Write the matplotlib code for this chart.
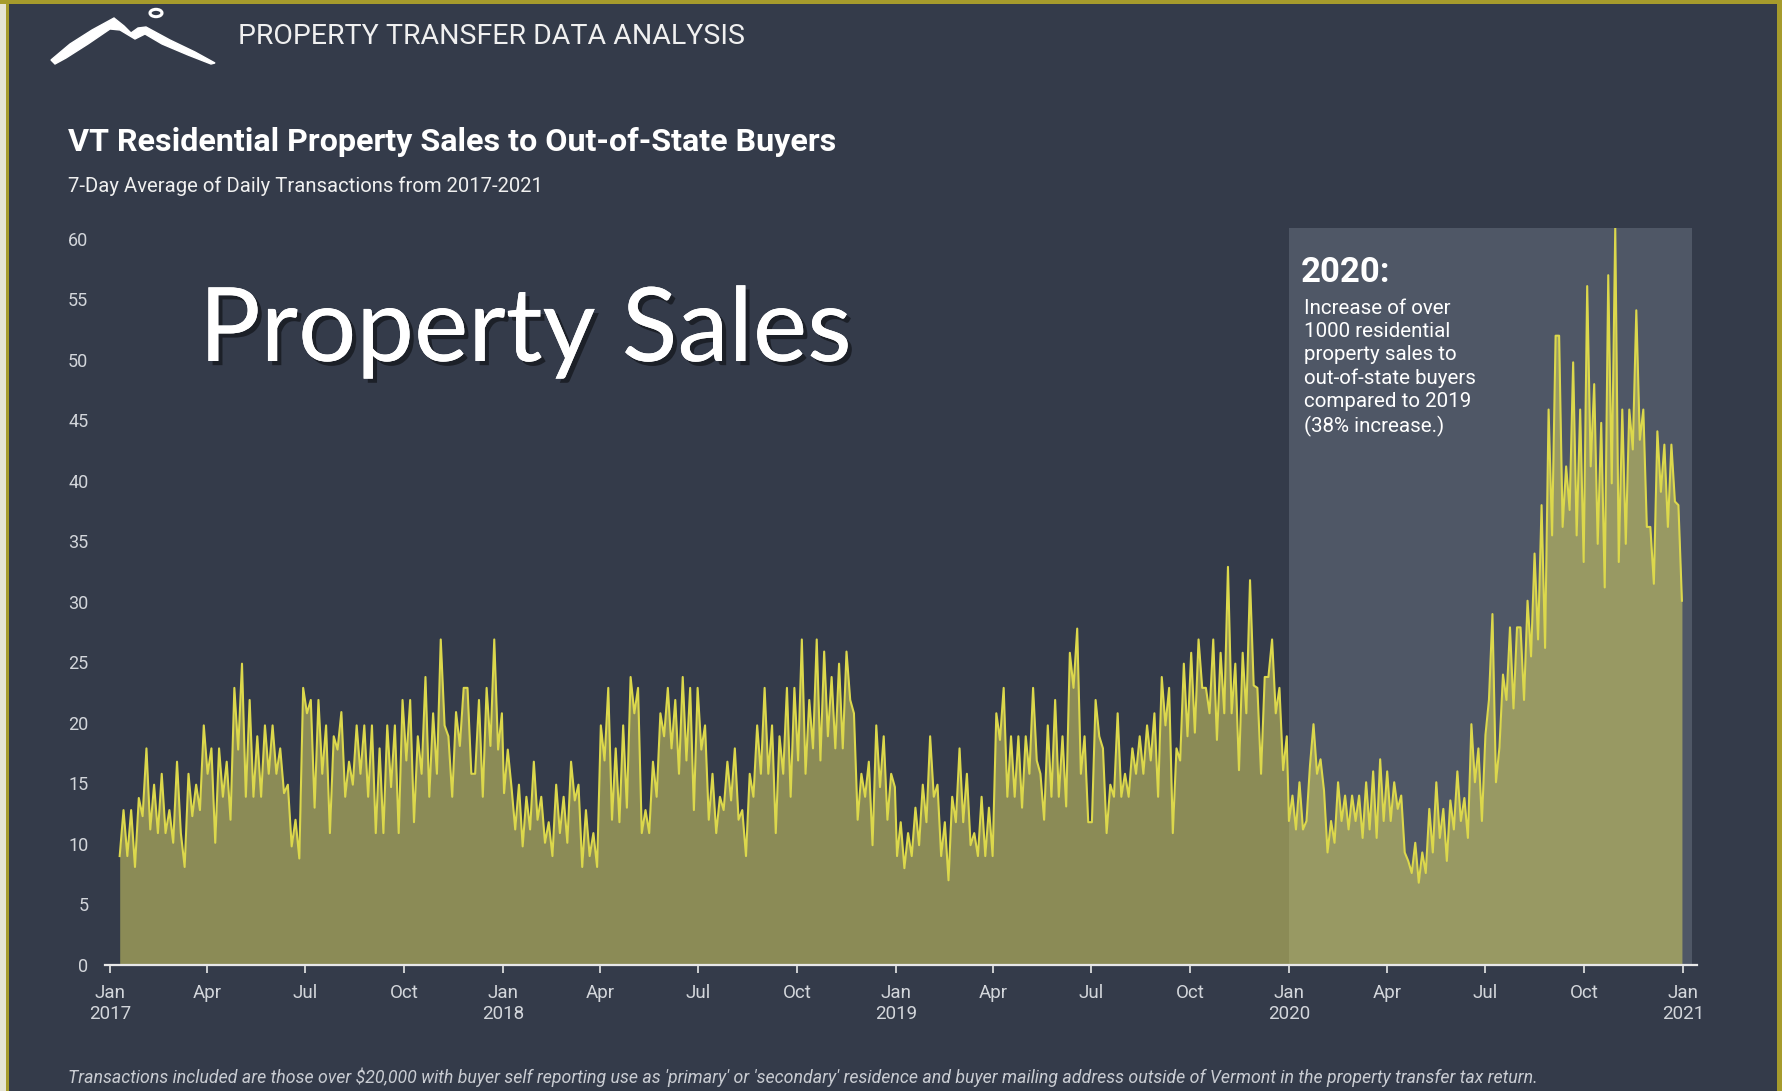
import numpy as np
import pandas as pd
import matplotlib
matplotlib.use("Agg")
import matplotlib.pyplot as plt
import matplotlib.dates as mdates
from matplotlib.patches import Rectangle, Polygon, Circle
import matplotlib.patheffects as pe

# ---------------- data (7-day avg of daily transactions) ----------------
sales_2017 = [
    9.0, 12.8, 9.0, 12.8, 8.1, 13.8, 12.3, 17.9, 11.2, 14.9,
    10.9, 15.8, 10.9, 12.8, 10.1, 16.8, 10.9, 8.1, 15.8, 12.3,
    14.9, 12.8, 19.8, 15.8, 17.9, 10.1, 17.9, 13.9, 16.8, 12.0,
    22.9, 17.8, 24.9, 13.9, 21.9, 13.9, 18.9, 13.9, 19.8, 15.8,
    19.8, 15.8, 17.9, 14.2, 14.9, 9.8, 12.0, 8.8, 22.9, 20.8,
    21.9, 13.0, 21.9, 15.8, 19.8, 10.9, 18.9, 17.8, 20.9, 13.9,
    16.8, 14.9, 19.8, 15.8, 19.8, 13.9, 19.8, 10.9, 17.9, 10.9,
    19.8, 14.7, 19.8, 10.9, 21.9, 16.9, 21.9, 11.8, 18.9, 15.8,
    23.8, 13.9, 20.8, 15.8, 26.9, 19.8, 18.9, 13.9, 20.9, 18.1,
    22.9, 22.9, 15.8, 15.8, 21.9, 13.9, 22.9, 18.1, 26.9, 17.8,
    20.8,
]
sales_2018 = [
    14.2, 17.8, 14.7, 11.2, 14.9, 9.8, 13.9, 11.2, 16.8, 12.0,
    13.9, 10.1, 11.8, 9.0, 14.9, 10.9, 13.9, 10.1, 16.8, 13.6,
    14.9, 8.1, 12.8, 9.0, 10.9, 8.1, 19.8, 16.9, 22.9, 12.0,
    17.9, 11.8, 19.8, 13.0, 23.8, 20.8, 22.9, 10.9, 12.8, 10.9,
    16.8, 13.9, 20.8, 18.9, 22.9, 17.9, 21.9, 15.8, 23.8, 16.9,
    22.9, 12.8, 22.9, 17.8, 19.8, 12.0, 15.8, 10.9, 13.9, 12.8,
    16.8, 13.6, 17.9, 12.0, 12.8, 9.0, 15.8, 13.9, 19.8, 15.8,
    22.9, 15.8, 19.8, 10.9, 18.9, 15.8, 22.9, 13.9, 22.9, 16.9,
    26.9, 15.8, 21.9, 17.9, 26.9, 16.9, 25.9, 18.9, 23.8, 17.9,
    24.9, 17.9, 25.9, 21.9, 20.8, 12.0, 15.8, 13.9, 16.8, 9.9,
    19.8, 14.7, 18.9, 12.0, 15.8, 14.7,
]
sales_2019 = [
    9.0, 11.8, 8.0, 10.9, 9.0, 13.0, 9.9, 14.9, 11.8, 18.9,
    13.9, 14.9, 9.0, 11.8, 7.0, 13.9, 11.8, 17.9, 11.8, 15.8,
    9.9, 10.9, 9.0, 13.9, 9.0, 13.0, 9.0, 20.8, 18.6, 22.9,
    13.9, 18.9, 13.9, 18.9, 13.0, 18.9, 15.8, 22.9, 16.9, 15.8,
    12.0, 19.8, 13.9, 21.9, 13.9, 18.9, 13.1, 25.8, 22.9, 27.8,
    15.8, 18.9, 11.8, 11.8, 21.9, 18.9, 17.9, 10.9, 14.9, 13.9,
    20.8, 13.9, 15.8, 13.9, 17.9, 15.8, 18.9, 15.8, 19.8, 16.9,
    20.8, 13.9, 23.8, 19.8, 22.9, 10.9, 17.9, 16.9, 24.9, 18.9,
    25.8, 19.2, 26.9, 22.9, 22.9, 20.8, 26.9, 18.6, 25.8, 20.8,
    32.9, 20.8, 24.9, 16.1, 25.8, 20.8, 31.8, 23.1, 22.9, 15.8,
    23.8, 23.8, 26.9, 20.8, 22.9, 16.1, 18.9,
]
sales_2020 = [
    11.9, 14.0, 11.2, 15.1, 11.2, 11.9, 16.5, 19.9, 15.8, 17.0,
    14.4, 9.3, 11.9, 10.1, 15.1, 11.9, 14.0, 11.2, 14.0, 11.9,
    14.0, 10.5, 15.1, 11.2, 16.0, 10.5, 17.0, 11.9, 16.0, 11.9,
    15.1, 12.9, 14.0, 9.3, 8.6, 7.6, 10.1, 6.8, 9.3, 7.6,
    12.9, 9.3, 15.1, 10.5, 12.9, 8.6, 13.6, 11.2, 16.0, 11.9,
    13.8, 10.5, 19.9, 15.1, 17.9, 11.9, 19.0, 21.9, 29.0, 15.1,
    18.0, 24.0, 21.9, 27.9, 21.2, 27.9, 27.9, 21.9, 30.1, 25.5,
    34.0, 26.9, 38.0, 26.2, 45.9, 35.5, 52.0, 52.0, 36.2, 41.2,
    37.6, 49.8, 35.5, 45.9, 33.3, 56.1, 41.2, 48.0, 34.8, 44.8,
    31.2, 57.0, 39.8, 60.9, 33.3, 45.9, 34.8, 45.9, 42.6, 54.1,
    43.4, 45.9, 36.2, 36.2, 31.5, 44.1, 39.1, 43.0, 36.2, 43.0,
    38.3, 38.0, 30.1,
]
year_spans = [("2017-01-10", "2017-12-31"), ("2018-01-02", "2018-12-31"),
              ("2019-01-02", "2019-12-30"), ("2020-01-01", "2020-12-31")]
y_ticks = [0, 5, 10, 15, 20, 25, 30, 35, 40, 45, 50, 55, 60]
month_names = {1: "Jan", 4: "Apr", 7: "Jul", 10: "Oct"}

title = "VT Residential Property Sales to Out-of-State Buyers"
subtitle = "7-Day Average of Daily Transactions from 2017-2021"
header = "PROPERTY TRANSFER DATA ANALYSIS"
overlay = "Property Sales"
note_head = "2020:"
note_body = ("Increase of over\n1000 residential\nproperty sales to\n"
             "out-of-state buyers\ncompared to 2019\n(38% increase.)")
footnote = ("Transactions included are those over $20,000 with buyer self reporting use as "
            "'primary' or 'secondary' residence and buyer mailing address outside of Vermont "
            "in the property transfer tax return.")

dates, vals = [], []
for arr, (s, e) in zip([sales_2017, sales_2018, sales_2019, sales_2020], year_spans):
    dates.extend(pd.date_range(s, e, periods=len(arr)))
    vals.extend(arr)
dates = pd.DatetimeIndex(dates)
vals = np.array(vals)

# ---------------- styling ----------------
W, H = 1782, 1091
BG = "#343b4a"
SHADE = "#4f5766"
FILL = "#e2dc62"
LINE = "#dcd84c"
TICK = "#d3d6db"
plt.rcParams["font.family"] = ["Roboto", "DejaVu Sans"]

fig = plt.figure(figsize=(W / 100, H / 100), dpi=100, facecolor=BG)

def fx(px):
    return px / W

def fy(py):
    return 1 - py / H

ax = fig.add_axes([fx(105), fy(965), fx(1697) - fx(105), (965 - 228) / H])
ax.set_facecolor(BG)

x0 = mdates.date2num(pd.Timestamp("2017-01-01"))
x1 = mdates.date2num(pd.Timestamp("2021-01-01"))
ppd = (1683 - 110) / (x1 - x0)
ax.set_xlim(x0 - 5 / ppd, x1 + 14 / ppd)
ax.set_ylim(0, 60.9)

ax.axvspan(mdates.date2num(pd.Timestamp("2020-01-01")), x1 + 9 / ppd,
           color=SHADE, zorder=0, lw=0)
ax.fill_between(dates, vals, 0, color=FILL, alpha=0.5, lw=0, zorder=2)
ax.plot(dates, vals, color=LINE, lw=1.5, zorder=3, solid_joinstyle="round")

for s in ["left", "right", "top"]:
    ax.spines[s].set_visible(False)
ax.spines["bottom"].set_color("#e8e8e8")
ax.spines["bottom"].set_linewidth(1.6)
ax.spines["bottom"].set_zorder(5)

ax.set_yticks(y_ticks)
ax.set_yticklabels([str(v) for v in y_ticks])
ax.tick_params(axis="y", length=0, pad=12, labelsize=13, labelcolor=TICK)

ax.xaxis.set_major_locator(mdates.MonthLocator(bymonth=[1, 4, 7, 10]))

def fmt(x, pos=None):
    d = mdates.num2date(x)
    name = month_names.get(d.month, "")
    return f"{name}\n{d.year}" if d.month == 1 else name

ax.xaxis.set_major_formatter(plt.FuncFormatter(fmt))
ax.tick_params(axis="x", length=6, width=1.2, color="#e8e8e8", pad=8,
               labelsize=13.5, labelcolor=TICK)
for lab in ax.get_xticklabels():
    lab.set_linespacing(1.2)

# ---------------- texts ----------------
fig.text(fx(238), fy(36), header, color="#f0f0f0", fontsize=20.5,
         va="center", ha="left")
fig.text(fx(68), fy(142), title, color="white", fontsize=23.2,
         fontweight="bold", va="center", ha="left")
fig.text(fx(68), fy(186), subtitle, color="#f0f0f0", fontsize=14.6,
         va="center", ha="left")
fig.text(fx(199), fy(361), overlay, color="white", fontsize=74,
         family=["Lato", "DejaVu Sans"], fontweight="normal", va="baseline", ha="left",
         path_effects=[pe.withSimplePatchShadow(offset=(3, -3), shadow_rgbFace="black",
                                                alpha=0.45), pe.Normal()])
fig.text(fx(1301), fy(273), note_head, color="white", fontsize=25,
         fontweight="bold", va="center", ha="left")
fig.text(fx(1304), fy(299), note_body, color="white", fontsize=14.8,
         va="top", ha="left", linespacing=1.28)
fig.text(fx(68), fy(1077), footnote, color="#c9ccd2", fontsize=12.75,
         style="italic", va="center", ha="left")

# ---------------- logo ----------------
logo = [(51, 60), (70, 44), (92, 30), (114, 18), (124, 26), (131, 33), (138, 28),
        (146, 27), (170, 40), (195, 52), (215, 63), (211, 64), (188, 55),
        (162, 44), (145, 34), (135, 39), (120, 30), (110, 29), (88, 44), (66, 58),
        (55, 64)]
fig.patches.append(Polygon([(fx(x), fy(y)) for x, y in logo], closed=True,
                           transform=fig.transFigure, facecolor="white",
                           edgecolor="white", lw=1))
fig.patches.append(Circle((fx(156), fy(13)), 6 / W, transform=fig.transFigure,
                          facecolor="none", edgecolor="white", lw=2.2))

# ---------------- slide frame ----------------
fig.patches.append(Rectangle((0, 0), fx(6), 1, transform=fig.transFigure,
                             facecolor="#e6e4d4", edgecolor="none", zorder=10))
fig.patches.append(Rectangle((fx(6), 0), fx(3), 1, transform=fig.transFigure,
                             facecolor="#a69b2c", edgecolor="none", zorder=10))
fig.patches.append(Rectangle((0, fy(4)), 1, 4 / H, transform=fig.transFigure,
                             facecolor="#a69b2c", edgecolor="none", zorder=10))
fig.patches.append(Rectangle((fx(1777), 0), fx(5), 1, transform=fig.transFigure,
                             facecolor="#a69b2c", edgecolor="none", zorder=10))

fig.savefig("out.png", dpi=100, facecolor=BG)
